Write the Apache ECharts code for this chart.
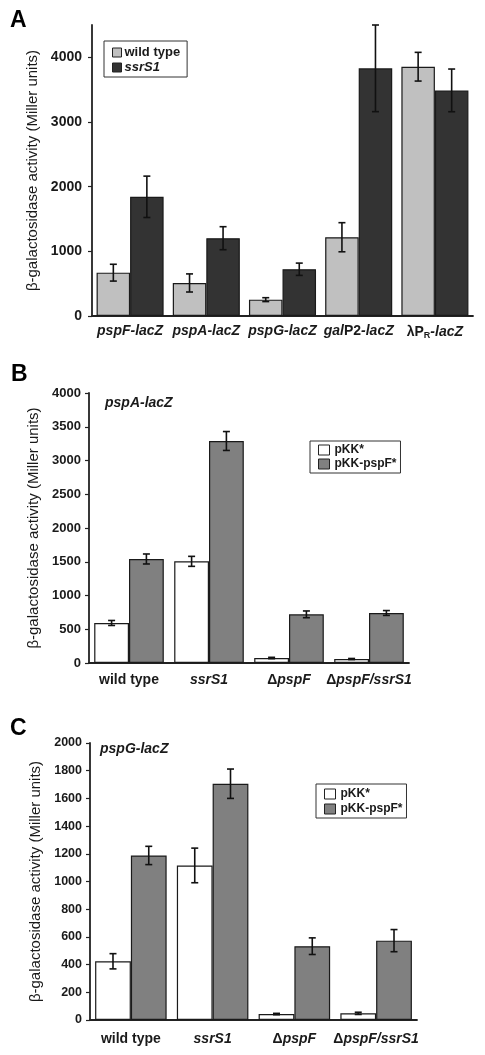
<!DOCTYPE html>
<html>
<head>
<meta charset="utf-8">
<script src="https://cdn.jsdelivr.net/npm/echarts@6/dist/echarts.min.js"></script>
<style>html,body{margin:0;padding:0;background:#fff}#c{width:485px;height:1055px}</style>
</head>
<body>
<div id="c"></div>
<script>
// ---- Panel A data ----
const catsA = ['pspF-lacZ', 'pspA-lacZ', 'pspG-lacZ', 'galP2-lacZ', 'λPR-lacZ'];
const wtA = [670, 511, 253, 1218, 3855];
const wtErrA = [130, 140, 30, 225, 222];
const ssrA = [1843, 1203, 723, 3830, 3489];
const ssrErrA = [320, 178, 95, 670, 330];
const ticksA = [0, 1000, 2000, 3000, 4000];

// ---- Panels B and C categories ----
const catsBC = ['wild type', 'ssrS1', 'ΔpspF', 'ΔpspF/ssrS1'];

// ---- Panel B data (pspA-lacZ) ----
const pkkB = [593, 1506, 74, 59];
const pkkErrB = [37, 74, 10, 8];
const pspfB = [1541, 3289, 721, 741];
const pspfErrB = [74, 140, 50, 36];
const ticksB = [0, 500, 1000, 1500, 2000, 2500, 3000, 3500, 4000];

// ---- Panel C data (pspG-lacZ) ----
const pkkC = [424, 1116, 43, 48];
const pkkErrC = [55, 125, 5, 8];
const pspfC = [1188, 1706, 533, 573];
const pspfErrC = [66, 106, 60, 80];
const ticksC = [0, 200, 400, 600, 800, 1000, 1200, 1400, 1600, 1800, 2000];

const FONT = 'Liberation Sans, Arial, Helvetica, sans-serif';
const INK = '#1a1a1a';

const richLabels = {
  i: {fontStyle: 'italic', fontWeight: 'bold', fontSize: 14, color: INK, fontFamily: FONT},
  b: {fontWeight: 'bold', fontSize: 14, color: INK, fontFamily: FONT},
  s: {fontWeight: 'bold', fontSize: 9, color: INK, fontFamily: FONT, padding: [7, 0, 0, 0]}
};
function fmtLabel(name) {
  switch (name) {
    case 'galP2-lacZ': return '{i|gal}{b|P2}{i|-lacZ}';
    case 'λPR-lacZ': return '{b|λP}{s|R}{i|-lacZ}';
    case 'wild type': return '{b|wild type}';
    case 'ΔpspF': return '{b|Δ}{i|pspF}';
    case 'ΔpspF/ssrS1': return '{b|Δ}{i|pspF/ssrS1}';
    default: return '{i|' + name + '}';
  }
}

function errSeries(gridIdx, side, gapFrac, vals, errs) {
  return {
    type: 'custom',
    xAxisIndex: gridIdx, yAxisIndex: gridIdx,
    z: 10,
    silent: true,
    data: vals.map((v, i) => [i, v, errs[i]]),
    encode: {x: 0, y: 1},
    renderItem: function (params, api) {
      const x = api.value(0), v = api.value(1), e = api.value(2);
      const band = api.size([1, 0])[0];
      const bw = band * (1 - gapFrac) / 2;
      const c = api.coord([x, v]);
      const cx = c[0] + side * bw / 2;
      const yt = api.coord([x, v + e])[1];
      const yb = api.coord([x, v - e])[1];
      const hw = 3.5;
      const st = {stroke: '#111', lineWidth: 1.6};
      return {
        type: 'group',
        children: [
          {type: 'line', shape: {x1: cx, y1: yt, x2: cx, y2: yb}, style: st},
          {type: 'line', shape: {x1: cx - hw, y1: yt, x2: cx + hw, y2: yt}, style: st},
          {type: 'line', shape: {x1: cx - hw, y1: yb, x2: cx + hw, y2: yb}, style: st}
        ]
      };
    }
  };
}

function barSeries(name, gridIdx, vals, color, gapPct) {
  return {
    type: 'bar', name: name,
    xAxisIndex: gridIdx, yAxisIndex: gridIdx,
    data: vals,
    barGap: '0%', barCategoryGap: gapPct + '%',
    itemStyle: {color: color, borderColor: INK, borderWidth: 1.2},
    emphasis: {disabled: true},
    animation: false
  };
}

function yAxis(gridIdx, max, interval, ticks, fontSize, labelMargin, nameGap) {
  return {
    type: 'value', gridIndex: gridIdx, min: 0, max: max, interval: interval,
    name: 'β-galactosidase activity (Miller units)',
    nameLocation: 'middle', nameGap: nameGap,
    nameTextStyle: {fontSize: 15, color: INK, fontFamily: FONT},
    axisLine: {show: true, lineStyle: {color: '#222', width: 1.8}},
    axisTick: {show: true, length: 4, inside: false, customValues: ticks, lineStyle: {color: '#222', width: 1.2}},
    axisLabel: {customValues: ticks, formatter: v => String(v), fontSize: fontSize, fontWeight: 'bold', color: INK, fontFamily: FONT, margin: labelMargin},
    splitLine: {show: false}
  };
}

function xAxis(gridIdx, cats, margin) {
  return {
    type: 'category', gridIndex: gridIdx, data: cats,
    axisLine: {show: true, lineStyle: {color: '#222', width: 1.8}},
    axisTick: {show: false},
    axisLabel: {formatter: fmtLabel, rich: richLabels, margin: margin, interval: 0}
  };
}

function legend(names, left, top, pad, fontSize, iw, ih, gap, textShift) {
  return {
    data: names,
    orient: 'vertical', left: left, top: top,
    padding: pad, itemGap: gap, itemWidth: iw, itemHeight: ih,
    icon: 'rect',
    backgroundColor: '#fff', borderColor: '#333', borderWidth: 1, borderRadius: 0,
    selectedMode: false,
    itemStyle: {borderColor: '#222', borderWidth: 1},
    textStyle: {fontSize: fontSize, fontWeight: 'bold', color: INK, fontFamily: FONT, padding: [0, 0, 0, textShift],
      rich: {it: {fontSize: fontSize, fontWeight: 'bold', fontStyle: 'italic', color: INK, fontFamily: FONT}}},
    formatter: function (n) { return n === 'ssrS1' ? '{it|ssrS1}' : n; }
  };
}

const chart = echarts.init(document.getElementById('c'), null, {renderer: 'canvas'});
chart.setOption({
  animation: false,
  textStyle: {fontFamily: FONT},
  title: [
    {text: 'A', left: 5, top: 4, textStyle: {fontSize: 23, fontWeight: 'bold', color: '#000', fontFamily: FONT}},
    {text: 'B', left: 6, top: 358, textStyle: {fontSize: 23, fontWeight: 'bold', color: '#000', fontFamily: FONT}},
    {text: 'C', left: 5, top: 712, textStyle: {fontSize: 23, fontWeight: 'bold', color: '#000', fontFamily: FONT}},
    {text: 'pspA-lacZ', left: 100, top: 391, textStyle: {fontSize: 14, fontWeight: 'bold', fontStyle: 'italic', color: INK, fontFamily: FONT}},
    {text: 'pspG-lacZ', left: 95, top: 737, textStyle: {fontSize: 14, fontWeight: 'bold', fontStyle: 'italic', color: INK, fontFamily: FONT}}
  ],
  legend: [
    legend(['wild type', 'ssrS1'], 104, 41, [5, 7, 3, 8], 13, 9, 9, 2, -2),
    legend(['pKK*', 'pKK-pspF*'], 310, 441, [3, 4, 3, 8], 12, 11, 10, 2, 0),
    legend(['pKK*', 'pKK-pspF*'], 316, 784, [4, 4, 3, 8], 12, 11, 10, 3, 0)
  ],
  grid: [
    {left: 92, top: 25, width: 381, height: 291},
    {left: 89, top: 393, width: 320, height: 270},
    {left: 90, top: 743, width: 327, height: 277}
  ],
  xAxis: [xAxis(0, catsA, 8), xAxis(1, catsBC, 10), xAxis(2, catsBC, 12)],
  yAxis: [
    yAxis(0, 4500, 500, ticksA, 14, 10, 49),
    yAxis(1, 4000, 500, ticksB, 13, 8, 43),
    yAxis(2, 2000, 200, ticksC, 12.5, 8, 39)
  ],
  series: [
    barSeries('wild type', 0, wtA, '#c0c0c0', 12),
    barSeries('ssrS1', 0, ssrA, '#333333', 12),
    errSeries(0, -1, 0.12, wtA, wtErrA),
    errSeries(0, 1, 0.12, ssrA, ssrErrA),
    barSeries('pKK*', 1, pkkB, '#ffffff', 13),
    barSeries('pKK-pspF*', 1, pspfB, '#808080', 13),
    errSeries(1, -1, 0.13, pkkB, pkkErrB),
    errSeries(1, 1, 0.13, pspfB, pspfErrB),
    barSeries('pKK*', 2, pkkC, '#ffffff', 12.5),
    barSeries('pKK-pspF*', 2, pspfC, '#808080', 12.5),
    errSeries(2, -1, 0.125, pkkC, pkkErrC),
    errSeries(2, 1, 0.125, pspfC, pspfErrC)
  ]
});
</script>
</body>
</html>
